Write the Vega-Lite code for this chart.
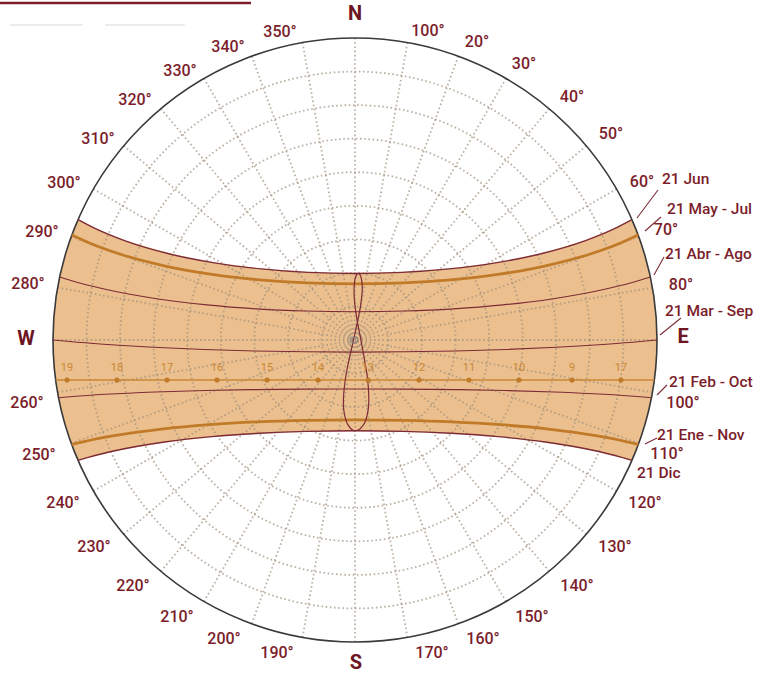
{
  "$schema": "https://vega.github.io/schema/vega-lite/v6.json",
  "width": 604,
  "height": 604,
  "autosize": {"type": "none"},
  "padding": {"left": 53, "top": 38, "right": 103, "bottom": 33},
  "background": "#ffffff",
  "view": {"stroke": null},
  "config": {"font": "Roboto"},
  "layer": [
    {
      "data": {"values": [
        {"o": 1, "x": -82.54, "y": 35.87}, {"o": 2, "x": -77.18, "y": 33.10}, {"o": 3, "x": -68.70, "y": 29.62}, {"o": 4, "x": -55.46, "y": 25.70}, {"o": 5, "x": -41.85, "y": 22.98}, {"o": 6, "x": -28.01, "y": 21.19}, {"o": 7, "x": -14.03, "y": 20.16}, {"o": 8, "x": 0, "y": 19.84}, {"o": 9, "x": 14.03, "y": 20.16}, {"o": 10, "x": 28.01, "y": 21.19}, {"o": 11, "x": 41.85, "y": 22.98}, {"o": 12, "x": 55.46, "y": 25.70}, {"o": 13, "x": 68.70, "y": 29.62}, {"o": 14, "x": 77.18, "y": 33.10}, {"o": 15, "x": 82.54, "y": 35.87},
        {"o": 16, "x": 84.57, "y": 30.78}, {"o": 17, "x": 86.93, "y": 23.29}, {"o": 18, "x": 88.63, "y": 15.63}, {"o": 19, "x": 89.66, "y": 7.84}, {"o": 20, "x": 90, "y": 0}, {"o": 21, "x": 89.66, "y": -7.84}, {"o": 22, "x": 88.63, "y": -15.63}, {"o": 23, "x": 86.93, "y": -23.29}, {"o": 24, "x": 84.57, "y": -30.78},
        {"o": 25, "x": 82.54, "y": -35.87}, {"o": 26, "x": 79.51, "y": -34.97}, {"o": 27, "x": 70.52, "y": -32.77}, {"o": 28, "x": 56.72, "y": -30.40}, {"o": 29, "x": 42.69, "y": -28.80}, {"o": 30, "x": 28.52, "y": -27.79}, {"o": 31, "x": 14.28, "y": -27.22}, {"o": 32, "x": 0, "y": -27.04}, {"o": 33, "x": -14.28, "y": -27.22}, {"o": 34, "x": -28.52, "y": -27.79}, {"o": 35, "x": -42.69, "y": -28.80}, {"o": 36, "x": -56.72, "y": -30.40}, {"o": 37, "x": -70.52, "y": -32.77}, {"o": 38, "x": -79.51, "y": -34.97}, {"o": 39, "x": -82.54, "y": -35.87},
        {"o": 40, "x": -84.57, "y": -30.78}, {"o": 41, "x": -86.93, "y": -23.29}, {"o": 42, "x": -88.63, "y": -15.63}, {"o": 43, "x": -89.66, "y": -7.84}, {"o": 44, "x": -90, "y": 0}, {"o": 45, "x": -89.66, "y": 7.84}, {"o": 46, "x": -88.63, "y": 15.63}, {"o": 47, "x": -86.93, "y": 23.29}, {"o": 48, "x": -84.57, "y": 30.78}, {"o": 49, "x": -82.54, "y": 35.87}
      ]},
      "mark": {"type": "line", "fill": "#ebc08e", "stroke": "#ebc08e", "strokeWidth": 0.5},
      "encoding": {
        "x": {"field": "x", "type": "quantitative", "scale": {"domain": [-90, 90], "nice": false}, "axis": null},
        "y": {"field": "y", "type": "quantitative", "scale": {"domain": [-90, 90], "nice": false}, "axis": null},
        "order": {"field": "o", "type": "quantitative"}
      }
    },
    {
      "data": {"values": [{"z": 10}, {"z": 20}, {"z": 30}, {"z": 40}, {"z": 50}, {"z": 60}, {"z": 70}, {"z": 80}]},
      "mark": {"type": "point", "shape": "circle", "filled": false, "stroke": "#a08e7c", "strokeOpacity": 0.7, "strokeWidth": 1.8, "strokeDash": [1.6, 2.6], "opacity": 1},
      "encoding": {
        "x": {"datum": 0, "type": "quantitative"},
        "y": {"datum": 0, "type": "quantitative"},
        "size": {"field": "z", "type": "quantitative", "scale": {"type": "pow", "exponent": 2, "domain": [0, 90], "range": [0, 364816]}, "legend": null}
      }
    },
    {
      "data": {"values": [
        {"az": 0, "x": 0, "y": 90}, {"az": 10, "x": 15.63, "y": 88.63}, {"az": 20, "x": 30.78, "y": 84.57}, {"az": 30, "x": 45, "y": 77.94}, {"az": 40, "x": 57.85, "y": 68.94}, {"az": 50, "x": 68.94, "y": 57.85}, {"az": 60, "x": 77.94, "y": 45}, {"az": 70, "x": 84.57, "y": 30.78}, {"az": 80, "x": 88.63, "y": 15.63},
        {"az": 90, "x": 90, "y": 0}, {"az": 100, "x": 88.63, "y": -15.63}, {"az": 110, "x": 84.57, "y": -30.78}, {"az": 120, "x": 77.94, "y": -45}, {"az": 130, "x": 68.94, "y": -57.85}, {"az": 140, "x": 57.85, "y": -68.94}, {"az": 150, "x": 45, "y": -77.94}, {"az": 160, "x": 30.78, "y": -84.57}, {"az": 170, "x": 15.63, "y": -88.63},
        {"az": 180, "x": 0, "y": -90}, {"az": 190, "x": -15.63, "y": -88.63}, {"az": 200, "x": -30.78, "y": -84.57}, {"az": 210, "x": -45, "y": -77.94}, {"az": 220, "x": -57.85, "y": -68.94}, {"az": 230, "x": -68.94, "y": -57.85}, {"az": 240, "x": -77.94, "y": -45}, {"az": 250, "x": -84.57, "y": -30.78}, {"az": 260, "x": -88.63, "y": -15.63},
        {"az": 270, "x": -90, "y": 0}, {"az": 280, "x": -88.63, "y": 15.63}, {"az": 290, "x": -84.57, "y": 30.78}, {"az": 300, "x": -77.94, "y": 45}, {"az": 310, "x": -68.94, "y": 57.85}, {"az": 320, "x": -57.85, "y": 68.94}, {"az": 330, "x": -45, "y": 77.94}, {"az": 340, "x": -30.78, "y": 84.57}, {"az": 350, "x": -15.63, "y": 88.63}
      ]},
      "mark": {"type": "rule", "stroke": "#a08e7c", "strokeOpacity": 0.7, "strokeWidth": 1.8, "strokeDash": [1.6, 2.6]},
      "encoding": {
        "x": {"field": "x", "type": "quantitative"},
        "y": {"field": "y", "type": "quantitative"},
        "x2": {"datum": 0},
        "y2": {"datum": 0}
      }
    },
    {
      "data": {"values": [{"z": 90}]},
      "mark": {"type": "point", "shape": "circle", "filled": false, "stroke": "#3a3a3a", "strokeWidth": 1.6, "opacity": 1},
      "encoding": {
        "x": {"datum": 0, "type": "quantitative"},
        "y": {"datum": 0, "type": "quantitative"},
        "size": {"field": "z", "type": "quantitative", "legend": null}
      }
    },
    {
      "data": {"values": [{"x": -89.2, "y": -11.92}, {"x": 89.2, "y": -11.92}]},
      "mark": {"type": "line", "stroke": "#c98734", "strokeWidth": 1.6},
      "encoding": {
        "x": {"field": "x", "type": "quantitative"},
        "y": {"field": "y", "type": "quantitative"}
      }
    },
    {
      "data": {"values": [
        {"fecha": "21 Jun", "x": -82.54, "y": 35.87}, {"fecha": "21 Jun", "x": -77.18, "y": 33.10}, {"fecha": "21 Jun", "x": -68.70, "y": 29.62}, {"fecha": "21 Jun", "x": -55.46, "y": 25.70}, {"fecha": "21 Jun", "x": -41.85, "y": 22.98}, {"fecha": "21 Jun", "x": -28.01, "y": 21.19}, {"fecha": "21 Jun", "x": -14.03, "y": 20.16}, {"fecha": "21 Jun", "x": 0, "y": 19.84}, {"fecha": "21 Jun", "x": 14.03, "y": 20.16}, {"fecha": "21 Jun", "x": 28.01, "y": 21.19}, {"fecha": "21 Jun", "x": 41.85, "y": 22.98}, {"fecha": "21 Jun", "x": 55.46, "y": 25.70}, {"fecha": "21 Jun", "x": 68.70, "y": 29.62}, {"fecha": "21 Jun", "x": 77.18, "y": 33.10}, {"fecha": "21 Jun", "x": 82.54, "y": 35.87},
        {"fecha": "21 May - Jul", "x": -84.39, "y": 31.29}, {"fecha": "21 May - Jul", "x": -78.97, "y": 28.83}, {"fecha": "21 May - Jul", "x": -70.15, "y": 25.63}, {"fecha": "21 May - Jul", "x": -56.52, "y": 22.05}, {"fecha": "21 May - Jul", "x": -42.59, "y": 19.56}, {"fecha": "21 May - Jul", "x": -28.48, "y": 17.93}, {"fecha": "21 May - Jul", "x": -14.26, "y": 17.00}, {"fecha": "21 May - Jul", "x": 0, "y": 16.70}, {"fecha": "21 May - Jul", "x": 14.26, "y": 17.00}, {"fecha": "21 May - Jul", "x": 28.48, "y": 17.93}, {"fecha": "21 May - Jul", "x": 42.59, "y": 19.56}, {"fecha": "21 May - Jul", "x": 56.52, "y": 22.05}, {"fecha": "21 May - Jul", "x": 70.15, "y": 25.63}, {"fecha": "21 May - Jul", "x": 78.97, "y": 28.83}, {"fecha": "21 May - Jul", "x": 84.39, "y": 31.29},
        {"fecha": "21 Abr - Ago", "x": -88.03, "y": 18.75}, {"fecha": "21 Abr - Ago", "x": -82.61, "y": 17.14}, {"fecha": "21 Abr - Ago", "x": -73.10, "y": 14.82}, {"fecha": "21 Abr - Ago", "x": -58.66, "y": 12.24}, {"fecha": "21 Abr - Ago", "x": -44.08, "y": 10.46}, {"fecha": "21 Abr - Ago", "x": -29.42, "y": 9.28}, {"fecha": "21 Abr - Ago", "x": -14.72, "y": 8.62}, {"fecha": "21 Abr - Ago", "x": 0, "y": 8.40}, {"fecha": "21 Abr - Ago", "x": 14.72, "y": 8.62}, {"fecha": "21 Abr - Ago", "x": 29.42, "y": 9.28}, {"fecha": "21 Abr - Ago", "x": 44.08, "y": 10.46}, {"fecha": "21 Abr - Ago", "x": 58.66, "y": 12.24}, {"fecha": "21 Abr - Ago", "x": 73.10, "y": 14.82}, {"fecha": "21 Abr - Ago", "x": 82.61, "y": 17.14}, {"fecha": "21 Abr - Ago", "x": 88.03, "y": 18.75},
        {"fecha": "21 Mar - Sep", "x": -90, "y": 0}, {"fecha": "21 Mar - Sep", "x": -85.0, "y": -0.47}, {"fecha": "21 Mar - Sep", "x": -75.02, "y": -1.26}, {"fecha": "21 Mar - Sep", "x": -60.03, "y": -2.18}, {"fecha": "21 Mar - Sep", "x": -45.02, "y": -2.83}, {"fecha": "21 Mar - Sep", "x": -30.01, "y": -3.26}, {"fecha": "21 Mar - Sep", "x": -15.0, "y": -3.52}, {"fecha": "21 Mar - Sep", "x": 0, "y": -3.6}, {"fecha": "21 Mar - Sep", "x": 15.0, "y": -3.52}, {"fecha": "21 Mar - Sep", "x": 30.01, "y": -3.26}, {"fecha": "21 Mar - Sep", "x": 45.02, "y": -2.83}, {"fecha": "21 Mar - Sep", "x": 60.03, "y": -2.18}, {"fecha": "21 Mar - Sep", "x": 75.02, "y": -1.26}, {"fecha": "21 Mar - Sep", "x": 85.0, "y": -0.47}, {"fecha": "21 Mar - Sep", "x": 90, "y": 0},
        {"fecha": "21 Feb - Oct", "x": -88.34, "y": -17.21}, {"fecha": "21 Feb - Oct", "x": -84.12, "y": -16.84}, {"fecha": "21 Feb - Oct", "x": -74.28, "y": -16.17}, {"fecha": "21 Feb - Oct", "x": -59.47, "y": -15.48}, {"fecha": "21 Feb - Oct", "x": -44.63, "y": -15.05}, {"fecha": "21 Feb - Oct", "x": -29.76, "y": -14.78}, {"fecha": "21 Feb - Oct", "x": -14.88, "y": -14.64}, {"fecha": "21 Feb - Oct", "x": 0, "y": -14.59}, {"fecha": "21 Feb - Oct", "x": 14.88, "y": -14.64}, {"fecha": "21 Feb - Oct", "x": 29.76, "y": -14.78}, {"fecha": "21 Feb - Oct", "x": 44.63, "y": -15.05}, {"fecha": "21 Feb - Oct", "x": 59.47, "y": -15.48}, {"fecha": "21 Feb - Oct", "x": 74.28, "y": -16.17}, {"fecha": "21 Feb - Oct", "x": 84.12, "y": -16.84}, {"fecha": "21 Feb - Oct", "x": 88.34, "y": -17.21},
        {"fecha": "21 Ene - Nov", "x": -84.44, "y": -31.14}, {"fecha": "21 Ene - Nov", "x": -81.07, "y": -30.33}, {"fecha": "21 Ene - Nov", "x": -71.80, "y": -28.50}, {"fecha": "21 Ene - Nov", "x": -57.66, "y": -26.54}, {"fecha": "21 Ene - Nov", "x": -43.35, "y": -25.23}, {"fecha": "21 Ene - Nov", "x": -28.94, "y": -24.40}, {"fecha": "21 Ene - Nov", "x": -14.49, "y": -23.95}, {"fecha": "21 Ene - Nov", "x": 0, "y": -23.80}, {"fecha": "21 Ene - Nov", "x": 14.49, "y": -23.95}, {"fecha": "21 Ene - Nov", "x": 28.94, "y": -24.40}, {"fecha": "21 Ene - Nov", "x": 43.35, "y": -25.23}, {"fecha": "21 Ene - Nov", "x": 57.66, "y": -26.54}, {"fecha": "21 Ene - Nov", "x": 71.80, "y": -28.50}, {"fecha": "21 Ene - Nov", "x": 81.07, "y": -30.33}, {"fecha": "21 Ene - Nov", "x": 84.44, "y": -31.14},
        {"fecha": "21 Dic", "x": -82.54, "y": -35.87}, {"fecha": "21 Dic", "x": -79.51, "y": -34.97}, {"fecha": "21 Dic", "x": -70.52, "y": -32.77}, {"fecha": "21 Dic", "x": -56.72, "y": -30.40}, {"fecha": "21 Dic", "x": -42.69, "y": -28.80}, {"fecha": "21 Dic", "x": -28.52, "y": -27.79}, {"fecha": "21 Dic", "x": -14.28, "y": -27.22}, {"fecha": "21 Dic", "x": 0, "y": -27.04}, {"fecha": "21 Dic", "x": 14.28, "y": -27.22}, {"fecha": "21 Dic", "x": 28.52, "y": -27.79}, {"fecha": "21 Dic", "x": 42.69, "y": -28.80}, {"fecha": "21 Dic", "x": 56.72, "y": -30.40}, {"fecha": "21 Dic", "x": 70.52, "y": -32.77}, {"fecha": "21 Dic", "x": 79.51, "y": -34.97}, {"fecha": "21 Dic", "x": 82.54, "y": -35.87}
      ]},
      "mark": {"type": "line", "interpolate": "monotone"},
      "encoding": {
        "x": {"field": "x", "type": "quantitative"},
        "y": {"field": "y", "type": "quantitative"},
        "detail": {"field": "fecha", "type": "nominal"},
        "color": {"field": "fecha", "type": "nominal", "legend": null, "scale": {"type": "ordinal", "domain": ["21 Jun", "21 May - Jul", "21 Abr - Ago", "21 Mar - Sep", "21 Feb - Oct", "21 Ene - Nov", "21 Dic"], "range": ["#7d2b35", "#c07a28", "#7d2b35", "#7d2b35", "#7d2b35", "#c07a28", "#7d2b35"]}},
        "strokeWidth": {"field": "fecha", "type": "nominal", "legend": null, "scale": {"type": "ordinal", "domain": ["21 Jun", "21 May - Jul", "21 Abr - Ago", "21 Mar - Sep", "21 Feb - Oct", "21 Ene - Nov", "21 Dic"], "range": [1.4, 2.8, 1.1, 1.1, 1.1, 2.8, 1.4]}}
      }
    },
    {
      "data": {"values": [
        {"o": 1, "x": 1.39, "y": -26.6}, {"o": 2, "x": 2.82, "y": -24.8}, {"o": 3, "x": 3.92, "y": -20.8}, {"o": 4, "x": 4.12, "y": -17.4}, {"o": 5, "x": 3.73, "y": -11.4}, {"o": 6, "x": 2.85, "y": -6.0}, {"o": 7, "x": 1.62, "y": 0.7}, {"o": 8, "x": 0.6, "y": 6.0}, {"o": 9, "x": -0.11, "y": 11.3}, {"o": 10, "x": -0.29, "y": 15.0}, {"o": 11, "x": 0.07, "y": 18.4}, {"o": 12, "x": 0.6, "y": 19.6}, {"o": 13, "x": 1.0, "y": 19.84}, {"o": 14, "x": 1.48, "y": 19.5}, {"o": 15, "x": 2.16, "y": 15.9}, {"o": 16, "x": 1.68, "y": 10.4}, {"o": 17, "x": 0.6, "y": 4.8}, {"o": 18, "x": -0.55, "y": -0.5}, {"o": 19, "x": -1.92, "y": -6.6}, {"o": 20, "x": -2.92, "y": -12.0}, {"o": 21, "x": -3.46, "y": -18.6}, {"o": 22, "x": -3.16, "y": -22.1}, {"o": 23, "x": -2.09, "y": -25.3}, {"o": 24, "x": -0.59, "y": -26.9}, {"o": 25, "x": 0.19, "y": -27.04}, {"o": 26, "x": 1.39, "y": -26.6}
      ]},
      "mark": {"type": "line", "interpolate": "catmull-rom", "stroke": "#7d2b35", "strokeWidth": 1.2},
      "encoding": {
        "x": {"field": "x", "type": "quantitative"},
        "y": {"field": "y", "type": "quantitative"},
        "order": {"field": "o", "type": "quantitative"}
      }
    },
    {
      "data": {"values": [{"x": -0.6, "y": 0}]},
      "mark": {"type": "point", "shape": "square", "filled": false, "stroke": "#8a8a8a", "strokeWidth": 1, "size": 30, "opacity": 1},
      "encoding": {
        "x": {"field": "x", "type": "quantitative"},
        "y": {"field": "y", "type": "quantitative"}
      }
    },
    {
      "data": {"values": [
        {"h": "19", "x": -85.83}, {"h": "18", "x": -70.93}, {"h": "17", "x": -56.03}, {"h": "16", "x": -41.13}, {"h": "15", "x": -26.22}, {"h": "14", "x": -11.03}, {"h": "13", "x": 3.87}, {"h": "12", "x": 19.07}, {"h": "11", "x": 33.97}, {"h": "10", "x": 48.87}, {"h": "9", "x": 64.67}, {"h": "17", "x": 79.27}
      ]},
      "layer": [
        {
          "mark": {"type": "point", "filled": true, "color": "#c07a28", "size": 26, "opacity": 1},
          "encoding": {
            "x": {"field": "x", "type": "quantitative"},
            "y": {"datum": -11.92, "type": "quantitative"}
          }
        },
        {
          "mark": {"type": "text", "color": "#c98734", "fontSize": 11, "baseline": "middle", "align": "center"},
          "encoding": {
            "x": {"field": "x", "type": "quantitative"},
            "y": {"datum": -8.2, "type": "quantitative"},
            "text": {"field": "h"}
          }
        }
      ]
    },
    {
      "data": {"values": [
        {"x": 90.30, "y": 44.70, "x2": 84.04, "y2": 36.36},
        {"x": 91.19, "y": 36.66, "x2": 86.42, "y2": 32.48},
        {"x": 92.08, "y": 24.73, "x2": 89.10, "y2": 19.37},
        {"x": 97.15, "y": 6.56, "x2": 90.89, "y2": 1.49},
        {"x": 92.98, "y": -13.41, "x2": 90.0, "y2": -16.39},
        {"x": 90.0, "y": -29.20, "x2": 86.42, "y2": -30.99}
      ]},
      "mark": {"type": "rule", "stroke": "#7d2b35", "strokeWidth": 1.1},
      "encoding": {
        "x": {"field": "x", "type": "quantitative"},
        "y": {"field": "y", "type": "quantitative"},
        "x2": {"field": "x2"},
        "y2": {"field": "y2"}
      }
    },
    {
      "data": {"values": [
        {"t": "350°", "x": -22.35, "y": 91.79}, {"t": "340°", "x": -37.85, "y": 87.32}, {"t": "330°", "x": -52.15, "y": 80.16}, {"t": "320°", "x": -65.56, "y": 71.52}, {"t": "310°", "x": -76.59, "y": 59.90}, {"t": "300°", "x": -86.72, "y": 46.79}, {"t": "290°", "x": -93.28, "y": 32.19}, {"t": "280°", "x": -97.45, "y": 16.69},
        {"t": "260°", "x": -97.75, "y": -18.77}, {"t": "250°", "x": -94.17, "y": -34.27}, {"t": "240°", "x": -87.02, "y": -48.58}, {"t": "230°", "x": -77.78, "y": -61.69}, {"t": "220°", "x": -66.16, "y": -73.31}, {"t": "210°", "x": -53.05, "y": -82.55}, {"t": "200°", "x": -39.04, "y": -89.11}, {"t": "190°", "x": -23.24, "y": -93.28},
        {"t": "170°", "x": 22.95, "y": -93.28}, {"t": "160°", "x": 38.15, "y": -89.11}, {"t": "150°", "x": 52.75, "y": -82.55}, {"t": "140°", "x": 66.16, "y": -73.31}, {"t": "130°", "x": 77.48, "y": -61.69}, {"t": "120°", "x": 86.42, "y": -48.58}, {"t": "110°", "x": 92.98, "y": -33.97}, {"t": "100°", "x": 97.75, "y": -18.77},
        {"t": "80°", "x": 97.15, "y": 16.39}, {"t": "70°", "x": 92.68, "y": 32.78}, {"t": "60°", "x": 85.53, "y": 47.09}, {"t": "50°", "x": 76.29, "y": 61.39}, {"t": "40°", "x": 64.67, "y": 72.42}, {"t": "30°", "x": 50.36, "y": 82.25}, {"t": "20°", "x": 36.36, "y": 88.81}, {"t": "100°", "x": 21.75, "y": 92.09}
      ]},
      "mark": {"type": "text", "color": "#7b1d2a", "fontSize": 16, "fontWeight": 500, "font": "Roboto", "align": "center", "baseline": "middle"},
      "encoding": {
        "x": {"field": "x", "type": "quantitative"},
        "y": {"field": "y", "type": "quantitative"},
        "text": {"field": "t"}
      }
    },
    {
      "data": {"values": [
        {"t": "N", "x": 0, "y": 97.15}, {"t": "W", "x": -98.05, "y": 0.3}, {"t": "S", "x": 0.3, "y": -96.3}, {"t": "E", "x": 97.75, "y": 0.89}
      ]},
      "mark": {"type": "text", "color": "#6e1524", "fontSize": 20, "fontWeight": "bold", "font": "Roboto", "align": "center", "baseline": "middle"},
      "encoding": {
        "x": {"field": "x", "type": "quantitative"},
        "y": {"field": "y", "type": "quantitative"},
        "text": {"field": "t"}
      }
    },
    {
      "data": {"values": [
        {"t": "21 Jun", "x": 91.49, "y": 47.98}, {"t": "21 May - Jul", "x": 92.98, "y": 39.04}, {"t": "21 Abr - Ago", "x": 92.38, "y": 25.63}, {"t": "21 Mar - Sep", "x": 92.38, "y": 8.64}, {"t": "21 Feb - Oct", "x": 93.57, "y": -12.52}, {"t": "21 Ene - Nov", "x": 90.0, "y": -28.31}, {"t": "21 Dic", "x": 84.04, "y": -39.64}
      ]},
      "mark": {"type": "text", "color": "#7b1d2a", "fontSize": 15.5, "fontWeight": 500, "font": "Roboto", "align": "left", "baseline": "middle"},
      "encoding": {
        "x": {"field": "x", "type": "quantitative"},
        "y": {"field": "y", "type": "quantitative"},
        "text": {"field": "t"}
      }
    },
    {
      "data": {"values": [{"x": -105.8, "x2": -31.0, "y": 100.43}]},
      "mark": {"type": "rule", "stroke": "#7b1d2a", "strokeWidth": 2.5},
      "encoding": {
        "x": {"field": "x", "type": "quantitative"},
        "x2": {"field": "x2"},
        "y": {"field": "y", "type": "quantitative"}
      }
    },
    {
      "data": {"values": [{"x": -102.8, "x2": -81.1, "y": 93.87}, {"x": -74.5, "x2": -50.7, "y": 93.87}]},
      "mark": {"type": "rule", "stroke": "#e6e6e6", "strokeWidth": 1.5},
      "encoding": {
        "x": {"field": "x", "type": "quantitative"},
        "x2": {"field": "x2"},
        "y": {"field": "y", "type": "quantitative"}
      }
    }
  ]
}
